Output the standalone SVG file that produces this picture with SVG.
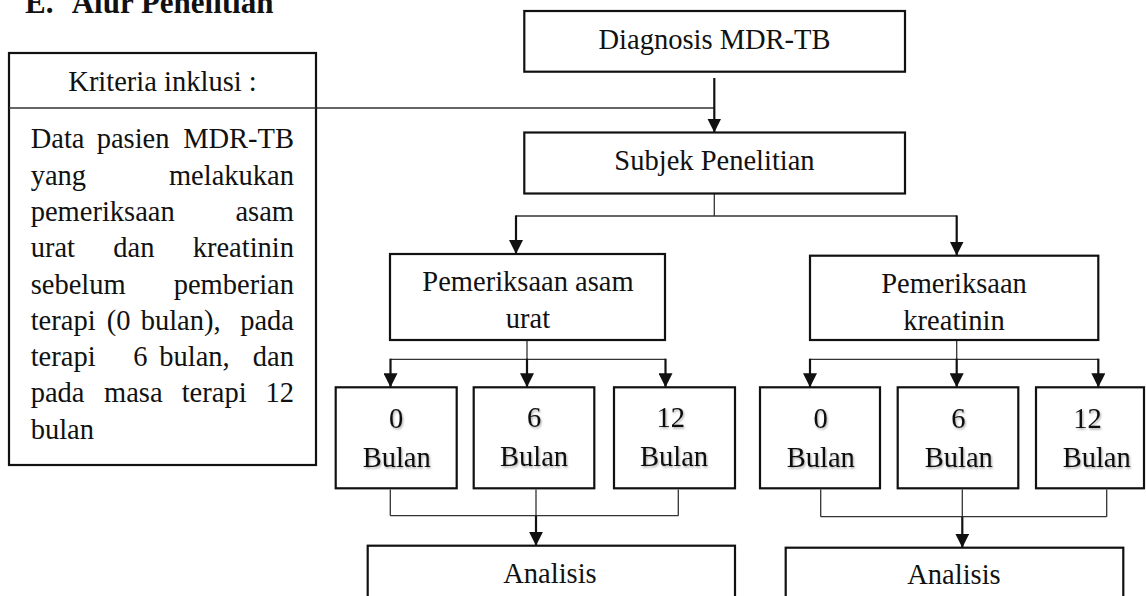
<svg xmlns="http://www.w3.org/2000/svg" width="1146" height="596" viewBox="0 0 1146 596">
<style>
text{font-family:"Liberation Serif","Times New Roman",serif;font-size:28.5px;fill:#111}
.c{text-anchor:middle}
.e{text-anchor:end}
.box{fill:#fff;stroke:#111;stroke-width:2.2}
.thin{fill:none;stroke:#333;stroke-width:1.3}
.arr{fill:none;stroke:#111;stroke-width:2.2;marker-end:url(#ah)}
.sh{filter:url(#shadow)}
</style>
<defs>
<marker id="ah" viewBox="0 0 14 14" refX="14" refY="7" markerWidth="14" markerHeight="14" markerUnits="userSpaceOnUse" orient="auto">
<path d="M0,0 L14,7 L0,14 z" fill="#111"/>
</marker>
<filter id="shadow" x="-20%" y="-20%" width="140%" height="140%">
<feDropShadow dx="1" dy="1.5" stdDeviation="1" flood-color="#000" flood-opacity="0.35"/>
</filter>
</defs>
<rect width="1146" height="596" fill="#fff"/>

<g id="title">
<text x="25" y="13" style="font-weight:bold;font-size:31px">E.</text>
<text x="71.7" y="13" style="font-weight:bold;font-size:31px">Alur Penelitian</text>
</g>

<g id="connectors">
<line class="thin" x1="316" y1="108" x2="714.3" y2="108"/>
<line class="arr" x1="714.3" y1="78" x2="714.3" y2="132.5"/>
<line class="thin" x1="714.3" y1="193.5" x2="714.3" y2="216"/>
<line class="thin" x1="516" y1="216" x2="956.7" y2="216"/>
<line class="arr" x1="516" y1="215.4" x2="516" y2="254"/>
<line class="arr" x1="956.7" y1="215.4" x2="956.7" y2="255.5"/>

<line class="thin" x1="527" y1="340" x2="527" y2="359.3"/>
<line class="thin" x1="390.5" y1="359.3" x2="665.5" y2="359.3"/>
<line class="arr" x1="390.5" y1="358.7" x2="390.5" y2="387.3"/>
<line class="arr" x1="527" y1="358.7" x2="527" y2="387.3"/>
<line class="arr" x1="665.5" y1="358.7" x2="665.5" y2="387.3"/>

<line class="thin" x1="956.7" y1="340" x2="956.7" y2="359.3"/>
<line class="thin" x1="810" y1="359.3" x2="1098.3" y2="359.3"/>
<line class="arr" x1="810" y1="358.7" x2="810" y2="387.3"/>
<line class="arr" x1="956.7" y1="358.7" x2="956.7" y2="387.3"/>
<line class="arr" x1="1098.3" y1="358.7" x2="1098.3" y2="387.3"/>

<line class="thin" x1="390.3" y1="489.5" x2="390.3" y2="515.7"/>
<line class="thin" x1="536" y1="489.5" x2="536" y2="515.7"/>
<line class="thin" x1="678.3" y1="489.5" x2="678.3" y2="515.7"/>
<line class="thin" x1="390.3" y1="515.7" x2="678.3" y2="515.7"/>
<line class="arr" x1="536" y1="515.7" x2="536" y2="545.7"/>

<line class="thin" x1="820.7" y1="489.5" x2="820.7" y2="516.7"/>
<line class="thin" x1="962.3" y1="489.5" x2="962.3" y2="516.7"/>
<line class="thin" x1="1106.7" y1="489.5" x2="1106.7" y2="516.7"/>
<line class="thin" x1="820.7" y1="516.7" x2="1106.7" y2="516.7"/>
<line class="arr" x1="962.3" y1="516.7" x2="962.3" y2="547.7"/>
</g>

<g id="kriteria">
<rect class="box" x="9" y="53" width="307" height="412" fill="none"/>
<line class="thin" x1="9" y1="108" x2="316" y2="108" style="stroke-width:1.5"/>
<text class="c" x="162.5" y="91">Kriteria inklusi :</text>
<text x="30.7" y="148.3">Data</text><text x="96.7" y="148.3">pasien</text><text class="e" x="294" y="148.3">MDR-TB</text>
<text x="30.7" y="184.6">yang</text><text class="e" x="294" y="184.6">melakukan</text>
<text x="30.7" y="220.9">pemeriksaan</text><text class="e" x="294" y="220.9">asam</text>
<text x="30.7" y="257.2">urat</text><text x="113.3" y="257.2">dan</text><text class="e" x="294" y="257.2">kreatinin</text>
<text x="30.7" y="293.5">sebelum</text><text class="e" x="294" y="293.5">pemberian</text>
<text x="30.7" y="329.8">terapi</text><text x="106.7" y="329.8">(0</text><text x="140.7" y="329.8">bulan),</text><text class="e" x="294" y="329.8">pada</text>
<text x="30.7" y="366.1">terapi</text><text x="133.3" y="366.1">6</text><text x="159.3" y="366.1">bulan,</text><text class="e" x="294" y="366.1">dan</text>
<text x="30.7" y="402.4">pada</text><text x="104" y="402.4">masa</text><text x="181.7" y="402.4">terapi</text><text class="e" x="294" y="402.4">12</text>
<text x="30.7" y="438.7">bulan</text>
</g>

<g id="diagnosis">
<rect class="box" x="524.3" y="11" width="380.7" height="60.7"/>
<text class="c" x="714.5" y="49">Diagnosis MDR-TB</text>
</g>

<g id="subjek">
<rect class="box" x="524.3" y="132.5" width="380.7" height="61"/>
<text class="c" x="714.5" y="170">Subjek Penelitian</text>
</g>

<g id="asam-urat">
<rect class="box" x="390" y="254" width="275" height="86"/>
<text class="c" x="528" y="291">Pemeriksaan asam</text>
<text class="c" x="528" y="328.3">urat</text>
</g>

<g id="kreatinin">
<rect class="box" x="810" y="255.7" width="288.3" height="84.3"/>
<text class="c" x="954" y="292.7">Pemeriksaan</text>
<text class="c" x="954" y="330">kreatinin</text>
</g>

<g id="u0">
<rect class="box" x="335.7" y="387.3" width="121" height="101"/>
<text class="c sh" x="396.2" y="428.3">0</text>
<text class="c sh" x="396.7" y="467.3">Bulan</text>
</g>
<g id="u6">
<rect class="box" x="473.7" y="387.3" width="120.6" height="101"/>
<text class="c sh" x="534" y="426.7">6</text>
<text class="c sh" x="534" y="465.5">Bulan</text>
</g>
<g id="u12">
<rect class="box" x="614" y="387.3" width="121" height="101"/>
<text class="c sh" x="670.8" y="426.7">12</text>
<text class="c sh" x="674" y="465.5">Bulan</text>
</g>

<g id="k0">
<rect class="box" x="760" y="387.3" width="120" height="101"/>
<text class="c sh" x="820.7" y="428.3">0</text>
<text class="c sh" x="820.8" y="467.3">Bulan</text>
</g>
<g id="k6">
<rect class="box" x="897.7" y="387.3" width="120.6" height="101"/>
<text class="c sh" x="958.3" y="428.3">6</text>
<text class="c sh" x="958.8" y="467.3">Bulan</text>
</g>
<g id="k12">
<rect class="box" x="1036" y="387.3" width="108" height="101"/>
<text class="c sh" x="1087.5" y="428.3">12</text>
<text class="c sh" x="1096.7" y="467.3">Bulan</text>
</g>

<g id="analisis-urat">
<rect class="box" x="367.7" y="545.7" width="367.3" height="80"/>
<text class="c" x="550" y="583.3">Analisis</text>
</g>
<g id="analisis-kreatinin">
<rect class="box" x="785.7" y="547.7" width="337.6" height="80"/>
<text class="c" x="954" y="584">Analisis</text>
</g>
</svg>
